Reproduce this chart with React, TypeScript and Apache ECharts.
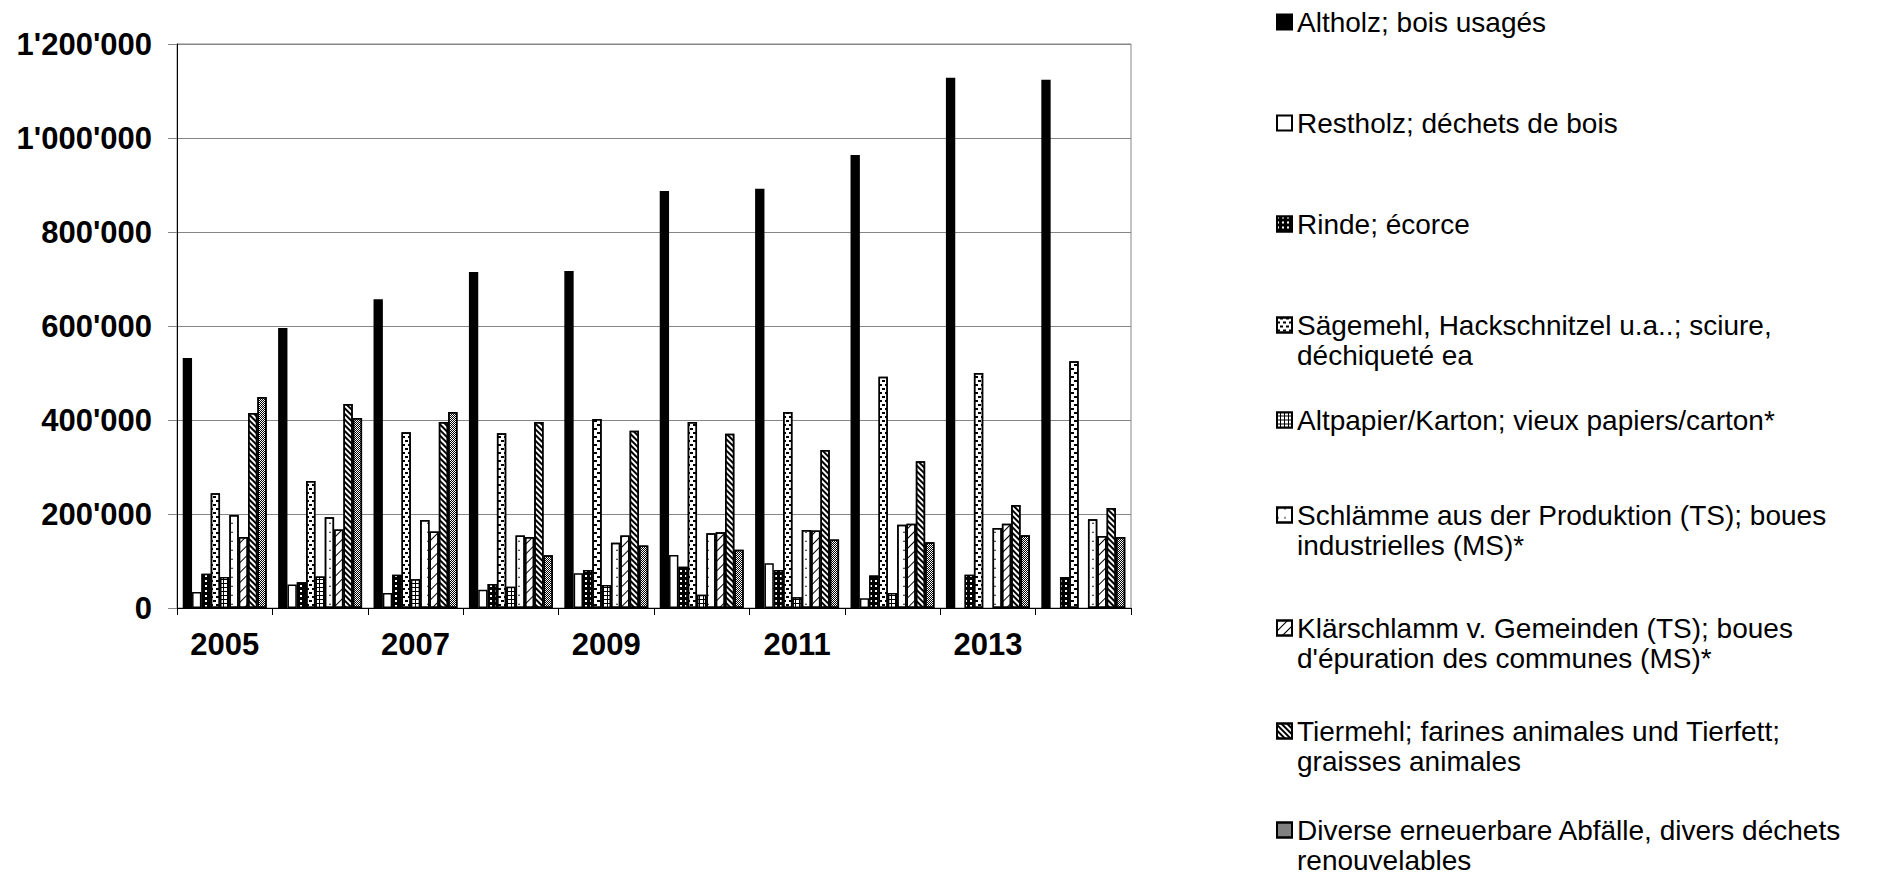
import React, { useEffect, useRef } from "react";
import * as echarts from "echarts";

const YEARS = ["2005", "2006", "2007", "2008", "2009", "2010", "2011", "2012", "2013", "2014"];

const SERIES_NAMES = [
  "Altholz; bois usagés",
  "Restholz; déchets de bois",
  "Rinde; écorce",
  "Sägemehl, Hackschnitzel u.a..; sciure, déchiqueté ea",
  "Altpapier/Karton; vieux papiers/carton*",
  "Schlämme aus der Produktion (TS); boues industrielles (MS)*",
  "Klärschlamm v. Gemeinden (TS); boues d'épuration des communes (MS)*",
  "Tiermehl; farines animales und Tierfett; graisses animales",
  "Diverse erneuerbare Abfälle, divers déchets renouvelables",
];

const LEGEND_LABELS = [
  "Altholz; bois usagés",
  "Restholz; déchets de bois",
  "Rinde; écorce",
  "Sägemehl, Hackschnitzel u.a..; sciure,\ndéchiqueté ea",
  "Altpapier/Karton; vieux papiers/carton*",
  "Schlämme aus der Produktion (TS); boues\nindustrielles (MS)*",
  "Klärschlamm v. Gemeinden (TS); boues\nd'épuration des communes (MS)*",
  "Tiermehl; farines animales und Tierfett;\ngraisses animales",
  "Diverse erneuerbare Abfälle, divers déchets\nrenouvelables",
];

const ALTHOLZ = [532000, 596000, 657000, 715000, 717000, 887000, 892000, 964000, 1128000, 1124000];
const RESTHOLZ = [34000, 50000, 32000, 39000, 74000, 113000, 95000, 21000, null, null];
const RINDE = [73000, 55000, 71000, 51000, 81000, 88000, 81000, 69000, 71000, 66000];
const SAEGEMEHL = [244000, 270000, 374000, 372000, 402000, 396000, 417000, 492000, 500000, 525000];
const ALTPAPIER = [66000, 67000, 61000, 45000, 49000, 28000, 23000, 32000, null, null];
const SCHLAEMME = [198000, 193000, 187000, 154000, 139000, 159000, 166000, 177000, 170000, 189000];
const KLAERSCHLAMM = [151000, 167000, 163000, 151000, 154000, 161000, 165000, 179000, 179000, 153000];
const TIERMEHL = [415000, 434000, 396000, 396000, 377000, 371000, 336000, 312000, 219000, 213000];
const DIVERSE = [449000, 404000, 417000, 112000, 133000, 124000, 146000, 140000, 155000, 151000];

const SERIES_VALUES = [ALTHOLZ, RESTHOLZ, RINDE, SAEGEMEHL, ALTPAPIER, SCHLAEMME, KLAERSCHLAMM, TIERMEHL, DIVERSE];

const FONT = "Arial, 'Liberation Sans', sans-serif";

// visual styles per series (fill colour + decal pattern)
const STYLES: any[] = [
  { color: "#000000" },
  { color: "#ffffff" },
  { color: "#000000", decal: { symbol: "rect", color: "#ffffff", symbolSize: 1, dashArrayX: [2, 3], dashArrayY: [2, 3] } },
  { color: "#ffffff", decal: { symbol: "rect", color: "#000000", symbolSize: 1, dashArrayX: [[3, 3], [0, 3, 3, 0]], dashArrayY: [2, 2] } },
  { color: "#000000", decal: { symbol: "rect", color: "#ffffff", symbolSize: 1, dashArrayX: [3, 1], dashArrayY: [3, 1] } },
  { color: "#ffffff", decal: { symbol: "triangle", color: "#000000", symbolSize: 0.9, dashArrayX: [2, 5], dashArrayY: [2, 7] } },
  { color: "#ffffff", decal: { symbol: "rect", color: "#000000", symbolSize: 1, dashArrayX: [1, 0], dashArrayY: [1, 6], rotation: -Math.PI / 4 } },
  { color: "#ffffff", decal: { symbol: "rect", color: "#000000", symbolSize: 1, dashArrayX: [1, 0], dashArrayY: [2, 2], rotation: Math.PI / 4 } },
  { color: "#ffffff", decal: { symbol: "rect", color: "#000000", symbolSize: 1, dashArrayX: [[1, 1], [0, 1, 1, 0]], dashArrayY: [1, 0] } },
];

// icon centre (y) of each legend entry
const LEGEND_CENTERS = [22, 123, 224, 325, 420, 515, 628, 731, 830];
const LEGEND_LH = 30;

function fmtThousands(v: number): string {
  return String(v).replace(/\B(?=(\d{3})+(?!\d))/g, "'");
}

export default function App() {
  const ref = useRef<HTMLDivElement>(null);

  useEffect(() => {
    document.body.style.margin = "0";
    document.body.style.overflow = "hidden";
    if (!ref.current) return;
    const chart = echarts.init(ref.current, null, { renderer: "svg" });

    const legends = SERIES_NAMES.map((name, i) => {
      const label = LEGEND_LABELS[i];
      const twoLines = label.indexOf("\n") >= 0;
      const text = twoLines ? "\n" + label : label;
      const blockH = (twoLines ? 3 : 1) * LEGEND_LH;
      return {
        data: [name],
        orient: "vertical",
        left: 1276,
        top: LEGEND_CENTERS[i] - blockH / 2,
        padding: 0,
        itemGap: 0,
        itemWidth: 15,
        itemHeight: 15,
        icon: "rect",
        selectedMode: false,
        formatter: () => text,
        textStyle: { fontSize: 28, color: "#000", fontFamily: FONT, lineHeight: LEGEND_LH },
      };
    });

    const series = SERIES_NAMES.map((name, i) => ({
      name,
      type: "bar",
      data: SERIES_VALUES[i],
      barGap: "0%",
      barCategoryGap: "12%",
      itemStyle: {
        color: STYLES[i].color,
        decal: STYLES[i].decal,
        borderColor: "#000",
        borderWidth: 1.5,
      },
    }));

    chart.setOption({
      animation: false,
      backgroundColor: "#ffffff",
      grid: {
        left: 177,
        top: 44,
        width: 954,
        height: 564,
        show: true,
        borderColor: "#868686",
        borderWidth: 1,
        outerBoundsMode: "none",
        containLabel: false,
      },
      xAxis: {
        type: "category",
        data: YEARS,
        axisLine: { lineStyle: { color: "#000", width: 1 } },
        axisTick: { show: true, interval: 0, length: 7, lineStyle: { color: "#000" } },
        axisLabel: { interval: 1, fontSize: 31, fontWeight: "bold", color: "#000", margin: 21, fontFamily: FONT },
      },
      yAxis: {
        type: "value",
        min: 0,
        max: 1200000,
        interval: 200000,
        axisLine: { show: true, lineStyle: { color: "#000", width: 1 } },
        axisTick: { show: true, length: 9, lineStyle: { color: "#868686" } },
        splitLine: { show: true, lineStyle: { color: "#868686", width: 1 } },
        axisLabel: {
          fontSize: 31,
          fontWeight: "bold",
          color: "#000",
          margin: 25,
          fontFamily: FONT,
          formatter: (v: number) => fmtThousands(v),
        },
      },
      legend: legends,
      series,
    });

    return () => chart.dispose();
  }, []);

  return <div ref={ref} style={{ width: 1886, height: 877 }} />;
}
